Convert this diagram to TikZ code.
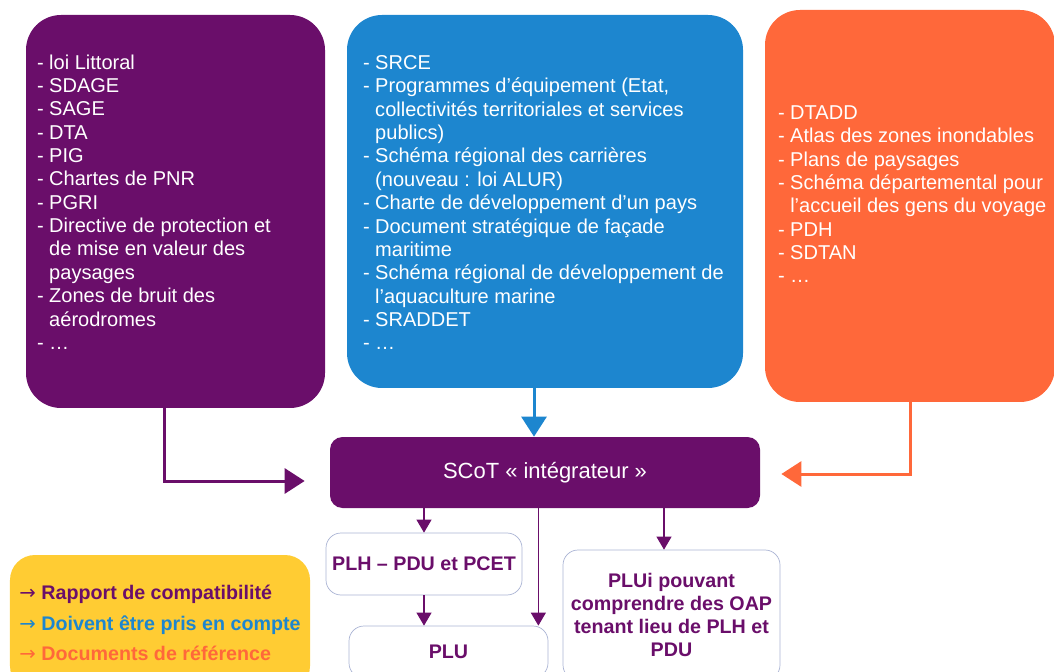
\documentclass[tikz,border=0pt]{standalone}
\usepackage{fontspec}
\setmainfont{Liberation Sans}
\newfontfamily\symfont{DejaVu Sans}
\usetikzlibrary{positioning,arrows.meta}
\usepackage{xcolor}
\definecolor{dpurple}{RGB}{106,14,106}
\definecolor{lblue}{RGB}{29,134,207}
\definecolor{dorange}{RGB}{255,104,58}
\definecolor{lyellow}{RGB}{255,204,51}
\definecolor{lborder}{RGB}{170,180,212}
\newcommand{\indnt}{\hphantom{- }}
\newcommand{\legarrow}{{\symfont\mdseries →}}

\begin{document}
\begin{tikzpicture}[srcbox/.style={rounded corners=0.7cm, inner sep=0pt},
        itemlist/.style={align=left, inner sep=0pt, text=white, font=\fontsize{11.4}{13.3}\selectfont},
        docbox/.style={draw=lborder, fill=white, rounded corners=0.3cm, text=dpurple, align=center, font=\bfseries\fontsize{11.2}{13.2}\selectfont},
        bigarrow/.style={-{Triangle[length=0.4cm,width=0.5cm]}, line width=0.06cm},
        link/.style={-{Triangle[length=0.26cm,width=0.3cm]}, draw=dpurple, line width=0.6pt}]

        \useasboundingbox (0,0) rectangle (21.08,13.42);

        \node[srcbox, fill=dpurple, minimum width=5.98cm, minimum height=7.86cm] (compat) at (3.51,9.19) {};
        \node[srcbox, fill=lblue, minimum width=7.92cm, minimum height=7.46cm] (prise) at (10.9,9.39) {};
        \node[srcbox, fill=dorange, minimum width=5.8cm, minimum height=7.84cm] (reference) at (18.2,9.30) {};

        \node[itemlist, below right=0.79cm and 0.22cm of compat.north west] (compatlist) {- loi Littoral\\- SDAGE\\- SAGE\\- DTA\\- PIG\\- Chartes de PNR\\- PGRI\\- Directive de protection et\\\indnt de mise en valeur des\\\indnt paysages\\- Zones de bruit des\\\indnt aérodromes\\- …};
        \node[itemlist, below right=0.81cm and 0.32cm of prise.north west] (priselist) {- SRCE\\- Programmes d’équipement (Etat,\\\indnt collectivités territoriales et services\\\indnt publics)\\- Schéma régional des carrières\\\indnt (nouveau : loi ALUR)\\- Charte de développement d’un pays\\- Document stratégique de façade\\\indnt maritime\\- Schéma régional de développement de\\\indnt l’aquaculture marine\\- SRADDET\\- …};
        \node[itemlist, below right=1.91cm and 0.26cm of reference.north west] (referencelist) {- DTADD\\- Atlas des zones inondables\\- Plans de paysages\\- Schéma départemental pour\\\indnt l’accueil des gens du voyage\\- PDH\\- SDTAN\\- …};

        \node[fill=dpurple, rounded corners=0.25cm, minimum width=8.6cm, minimum height=1.42cm, text=white, font=\fontsize{12.5}{15}\selectfont] (scot) at (10.9,3.97) {SCoT « intégrateur »};

        \node[docbox, minimum width=3.92cm, minimum height=1.24cm] (plh) at (8.48,2.14) {PLH – PDU et PCET};
        \node[docbox, minimum width=3.98cm, minimum height=1.04cm] (plu) at (8.97,0.38) {PLU};
        \node[docbox, minimum width=4.34cm, minimum height=2.6cm] (plui) at (13.43,1.12) {PLUi pouvant\\comprendre des OAP\\tenant lieu de PLH et\\PDU};

        \node[fill=lyellow, rounded corners=0.5cm, minimum width=6cm, minimum height=2.72cm, inner xsep=0pt, align=left, font=\bfseries\fontsize{11.2}{17.3}\selectfont] (legende) at (3.2,0.96) {\textcolor{dpurple}{\legarrow{} Rapport de compatibilité}\\\textcolor{lblue}{\legarrow{} Doivent être pris en compte}\\\textcolor{dorange}{\legarrow{} Documents de référence}};

        \draw[bigarrow, dpurple] ([xshift=-0.23cm]compat.south) |- ([xshift=-0.5cm,yshift=-0.17cm]scot.west);
        \draw[bigarrow, lblue] ([xshift=-0.22cm]prise.south) -- ([xshift=-0.22cm]scot.north);
        \draw[bigarrow, dorange] (reference.south) |- ([xshift=0.42cm,yshift=-0.03cm]scot.east);

        \coordinate (pluend) at ([xshift=-0.2cm]plu.north east);
        \coordinate (pluiend) at ([xshift=-0.15cm]plui.north);
        \draw[link] (scot.south -| plh.north) -- (plh.north);
        \draw[link] (plh.south) -- (plh.south |- plu.north);
        \draw[link] (scot.south -| pluend) -- (pluend);
        \draw[link] (scot.south -| pluiend) -- (pluiend);

    \end{tikzpicture}
\end{document}
